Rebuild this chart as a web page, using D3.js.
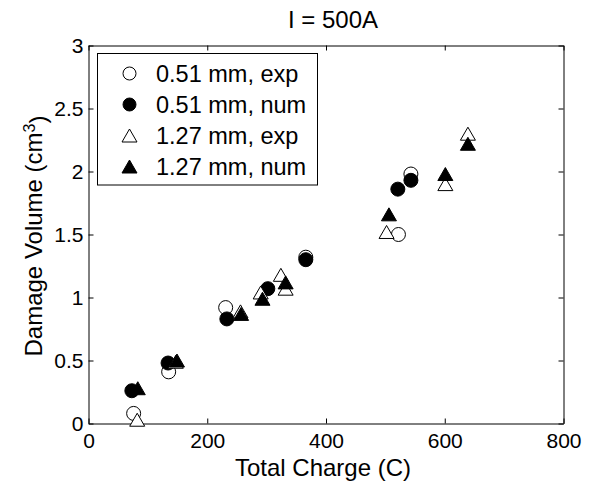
<!DOCTYPE html>
<html><head><meta charset="utf-8">
<script src="https://cdn.jsdelivr.net/npm/d3@7"></script>
<style>body{margin:0;background:#fff}svg{display:block}</style>
</head><body>
<svg id="c" width="612" height="482"></svg>
<script>
// ---- data ----
const titleText = "I = 500A";
const xLabel = "Total Charge (C)";
const xTicks = [0, 200, 400, 600, 800];
const yTicks = [0, 0.5, 1, 1.5, 2, 2.5, 3];
const yTickLabels = ["0", "0.5", "1", "1.5", "2", "2.5", "3"];
const seriesNames = ["0.51 mm, exp", "0.51 mm, num", "1.27 mm, exp", "1.27 mm, num"];

const exp051X = [76, 135, 231, 366, 522, 543];
const exp051Y = [0.08, 0.41, 0.92, 1.32, 1.50, 1.98];
const num051X = [73, 134, 233, 302, 366, 521, 543];
const num051Y = [0.26, 0.48, 0.83, 1.07, 1.30, 1.86, 1.93];
const exp127X = [82, 147, 256, 290, 324, 332, 502, 601, 639];
const exp127Y = [0.03, 0.49, 0.89, 1.04, 1.18, 1.07, 1.52, 1.90, 2.30];
const num127X = [83, 149, 257, 293, 332, 506, 601, 639];
const num127Y = [0.28, 0.50, 0.87, 0.99, 1.12, 1.66, 1.98, 2.22];

// ---- layout ----
const L = 88.5, R = 563.5, T = 45.5, B = 423.5;
const svg = d3.select("#c");
const x = d3.scaleLinear().domain([0, 800]).range([L, R]);
const y = d3.scaleLinear().domain([0, 3]).range([B, T]);
const font = "Liberation Sans, Arial, sans-serif";

// axes
const ax = svg.append("g").attr("transform", `translate(0,${B})`)
  .call(d3.axisBottom(x).tickValues(xTicks).tickFormat(d3.format("d")).tickSizeInner(-5).tickSizeOuter(0).tickPadding(10));
const axT = svg.append("g").attr("transform", `translate(0,${T})`)
  .call(d3.axisTop(x).tickValues(xTicks).tickFormat("").tickSizeInner(-5).tickSizeOuter(0));
const ay = svg.append("g").attr("transform", `translate(${L},0)`)
  .call(d3.axisLeft(y).tickValues(yTicks).tickFormat((d, i) => yTickLabels[i]).tickSizeInner(-5).tickSizeOuter(0).tickPadding(5));
const ayR = svg.append("g").attr("transform", `translate(${R},0)`)
  .call(d3.axisRight(y).tickValues(yTicks).tickFormat("").tickSizeInner(-5).tickSizeOuter(0));
[ax, axT, ay, ayR].forEach(g => {
  g.selectAll("path.domain").attr("stroke", "#000").attr("stroke-width", 1);
  g.selectAll("line").attr("stroke", "#000").attr("stroke-width", 1);
  g.selectAll("text").attr("fill", "#000").style("font-family", font).style("font-size", "21px");
});

// markers
const triPath = (w, h) => `M0,${-h/2}L${w/2},${h/2}L${-w/2},${h/2}Z`;
function drawCircles(xs, ys, fill) {
  svg.append("g").selectAll("circle").data(xs.map((v, i) => [v, ys[i]])).join("circle")
    .attr("cx", d => x(d[0])).attr("cy", d => y(d[1])).attr("r", 7)
    .attr("fill", fill).attr("stroke", "#000").attr("stroke-width", 1);
}
function drawTris(xs, ys, fill) {
  svg.append("g").selectAll("path").data(xs.map((v, i) => [v, ys[i]])).join("path")
    .attr("transform", d => `translate(${x(d[0])},${y(d[1])})`).attr("d", triPath(15, 13))
    .attr("fill", fill).attr("stroke", "#000").attr("stroke-width", 1);
}
drawCircles(exp051X, exp051Y, "#fff");
drawCircles(num051X, num051Y, "#000");
drawTris(exp127X, exp127Y, "#fff");
drawTris(num127X, num127Y, "#000");

// legend
const lg = svg.append("g");
lg.append("rect").attr("x", 97.5).attr("y", 53.5).attr("width", 220).attr("height", 131.5)
  .attr("fill", "#fff").attr("stroke", "#000").attr("stroke-width", 1);
const rowY = [73.5, 104.5, 135.5, 166.5];
seriesNames.forEach((name, i) => {
  const cy = rowY[i], fill = (i % 2) ? "#000" : "#fff";
  if (i < 2) lg.append("circle").attr("cx", 129.5).attr("cy", cy).attr("r", 6.5).attr("fill", fill).attr("stroke", "#000");
  else lg.append("path").attr("transform", `translate(129.5,${cy})`).attr("d", triPath(15, 13)).attr("fill", fill).attr("stroke", "#000");
  lg.append("text").attr("x", 156).attr("y", cy).attr("dy", "0.35em").text(name)
    .style("font-family", font).style("font-size", "23.5px").attr("fill", "#000");
});

// labels
svg.append("text").attr("x", 333).attr("y", 28).attr("text-anchor", "middle").text(titleText)
  .style("font-family", font).style("font-size", "24px");
svg.append("text").attr("x", 323).attr("y", 476).attr("text-anchor", "middle").text(xLabel)
  .style("font-family", font).style("font-size", "24px");
const yl = svg.append("text").attr("transform", "translate(42,236) rotate(-90)").attr("text-anchor", "middle")
  .style("font-family", font).style("font-size", "24px");
yl.append("tspan").text("Damage Volume (cm");
yl.append("tspan").attr("dy", "-0.45em").style("font-size", "16px").text("3");
yl.append("tspan").attr("dy", "0.45em").text(")");
</script>
</body></html>
